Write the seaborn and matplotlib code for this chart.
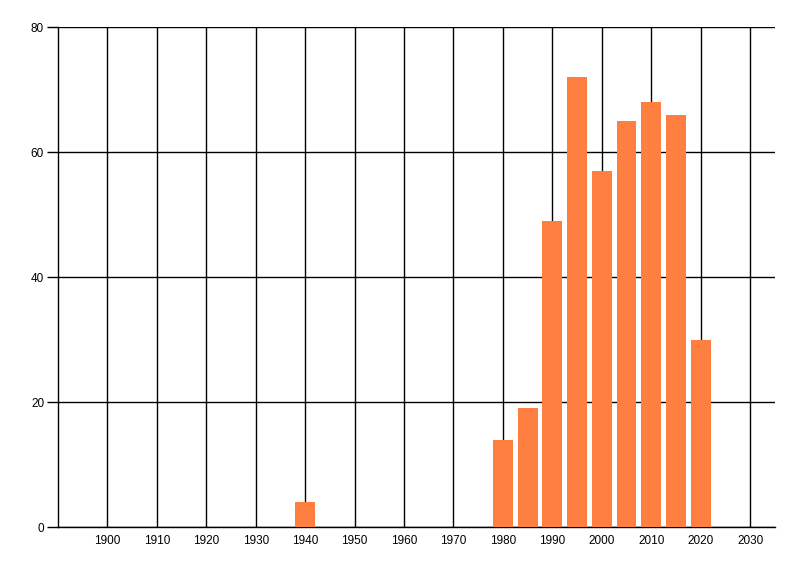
import pandas as pd
import seaborn as sns
import matplotlib.pyplot as plt

# values
years = [1940, 1980, 1985, 1990, 1995, 2000, 2005, 2010, 2015, 2020]
counts = [4, 14, 19, 49, 72, 57, 65, 68, 66, 30]
x_ticks = list(range(1900, 2031, 10))
y_ticks = [0, 20, 40, 60, 80]

data = pd.DataFrame({'year': years, 'count': counts})

sns.set_style('white')
plt.rcParams['font.family'] = ['Liberation Sans', 'DejaVu Sans']

fig = plt.figure(figsize=(8, 5.76), dpi=100)
ax = fig.add_axes([0.0725, 0.085, 0.896, 0.868])

sns.barplot(data=data, x='year', y='count', native_scale=True, width=0.8,
            color='#FF7F40', saturation=1, linewidth=0, ax=ax, zorder=3)

ax.set_xlim(1890, 2035)
ax.set_ylim(0, 80)
ax.set_xticks(x_ticks)
ax.set_yticks(y_ticks)
ax.grid(True, color='black', linewidth=1.0, zorder=0)
ax.set_axisbelow(True)
ax.tick_params(axis='x', length=0, pad=6, labelsize=8.5, colors='black')
ax.tick_params(axis='y', length=8, width=1, pad=2, labelsize=8.5, colors='black', left=True)
ax.set_xlabel('')
ax.set_ylabel('')

for side in ['top', 'right']:
    ax.spines[side].set_visible(False)
for side in ['left', 'bottom']:
    ax.spines[side].set_color('black')
    ax.spines[side].set_linewidth(1.0)

plt.savefig('out.png', dpi=100)
